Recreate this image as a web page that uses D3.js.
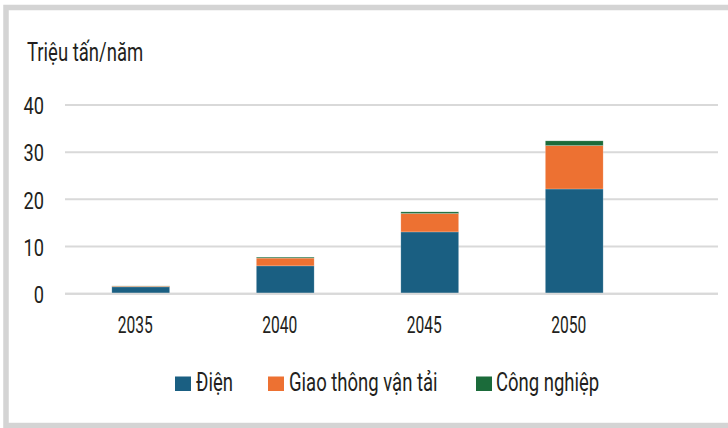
<!DOCTYPE html>
<html>
<head>
<meta charset="utf-8">
<script src="https://cdn.jsdelivr.net/npm/d3@7"></script>
<style>
  html, body { margin: 0; padding: 0; background: #fff; }
  svg { display: block; }
  text { font-family: Roboto, "Noto Sans", sans-serif; fill: #231f20; }
</style>
</head>
<body>
<svg id="chart" width="728" height="428"></svg>
<script>
const years = ["2035", "2040", "2045", "2050"];
const dien = [1.45, 5.9, 13.1, 22.2];
const giaoThong = [0.15, 1.65, 3.9, 9.2];
const congNghiep = [0.05, 0.2, 0.35, 1.0];
const seriesNames = ["Điện", "Giao thông vận tải", "Công nghiệp"];
const seriesColors = ["#1a5f82", "#ed7132", "#1b6b3a"];
const yTicks = [0, 10, 20, 30, 40];
const yTitle = "Triệu tấn/năm";

const svg = d3.select("#chart");

// frame
svg.append("rect")
  .attr("x", 6).attr("y", 7.5).attr("width", 760).attr("height", 418)
  .attr("fill", "#fff").attr("stroke", "#d4d4d4").attr("stroke-width", 5.5);

const x = d3.scaleBand().domain(years).range([68.5, 646.5]).paddingInner(0.6).paddingOuter(0.3);
const y = d3.scaleLinear().domain([0, 40]).range([293.7, 105]);

// gridlines
svg.append("g").selectAll("line").data(yTicks).join("line")
  .attr("x1", 65).attr("x2", 718)
  .attr("y1", d => y(d)).attr("y2", d => y(d))
  .attr("stroke", "#d9d9d9").attr("stroke-width", 2);

// y axis labels
const yAxis = d3.axisLeft(y).tickValues(yTicks).tickSize(0).tickPadding(0);
const gy = svg.append("g").attr("transform", "translate(44,0)").call(yAxis);
gy.select(".domain").remove();
gy.selectAll("text")
  .attr("x", 0)
  .attr("font-size", 24).attr("fill", "#231f20")
  .attr("font-family", "Roboto, sans-serif")
  .attr("dy", "0.36em")
  .attr("transform", "scale(0.76,1)");

// stacked bars
const table = years.map((yr, i) => ({ year: yr, s0: dien[i], s1: giaoThong[i], s2: congNghiep[i] }));
const stacked = d3.stack().keys(["s0", "s1", "s2"])(table);
svg.append("g").selectAll("g").data(stacked).join("g")
  .attr("fill", (d, i) => seriesColors[i])
  .selectAll("rect").data(d => d).join("rect")
  .attr("x", d => x(d.data.year))
  .attr("width", x.bandwidth())
  .attr("y", d => y(d[1]))
  .attr("height", d => Math.max(0, y(d[0]) - y(d[1])))
  .attr("stroke", "rgba(255,255,255,0.35)").attr("stroke-width", 0.6);

// baseline
svg.append("line").attr("x1", 65).attr("x2", 718).attr("y1", y(0)).attr("y2", y(0))
  .attr("stroke", "#d9d9d9").attr("stroke-width", 2);

// x axis labels
const xAxis = d3.axisBottom(x).tickSize(0).tickPadding(0);
const gx = svg.append("g").attr("transform", "translate(-5.5,332.5)").call(xAxis);
gx.select(".domain").remove();
gx.selectAll("text").attr("font-size", 24).attr("y", 0).attr("dy", 0).attr("fill", "#231f20")
  .attr("font-family", "Roboto, sans-serif")
  .attr("transform", "scale(0.65,1)");

// y title
svg.append("text").attr("transform", "translate(27,60.5) scale(0.74,1)")
  .attr("font-size", 25).text(yTitle);

// legend
const legendX = [175, 268, 476];
const lg = svg.append("g").selectAll("g").data(seriesNames).join("g")
  .attr("transform", (d, i) => `translate(${legendX[i]},0)`);
lg.append("rect").attr("x", 0).attr("y", 376.5).attr("width", 16).attr("height", 14.5)
  .attr("fill", (d, i) => seriesColors[i]);
lg.append("text")
  .attr("transform", (d, i) => `translate(${i === 2 ? 20 : 21},390.5) scale(0.74,1)`)
  .attr("font-size", 25).text(d => d);
</script>
</body>
</html>
